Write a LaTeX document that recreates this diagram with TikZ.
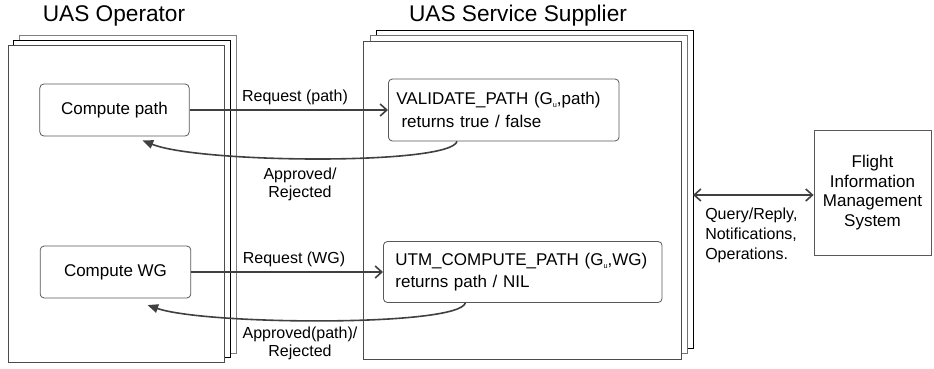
\documentclass[tikz,border=0pt]{standalone}
\usepackage{fontspec}
\setmainfont{Liberation Sans}
\usetikzlibrary{arrows.meta,calc}
% small subscript u after G
\newcommand{\Gsub}{G\raisebox{-0.35ex}{\fontsize{5.5}{5.5}\selectfont u}}

\tikzset{
  frame/.style={line width=0.6pt, fill=white},
  func/.style={draw=black!65, line width=0.6pt, rounded corners=3pt, inner ysep=0pt,
    font=\fontsize{12.75}{17}\selectfont},
  title/.style={font=\fontsize{17}{20}\selectfont, inner sep=0pt},
  lbl/.style={font=\fontsize{12}{13.5}\selectfont, inner sep=0pt},
  flow/.style={line width=1.2pt, draw=black!75, -{Straight Barb[length=5pt,width=9pt]}},
  reply/.style={line width=1.2pt, draw=black!75, -{Triangle[length=8pt,width=6.5pt]}},
}

\begin{document}
\begin{tikzpicture}[x=0.75pt,y=-0.75pt]
			\useasboundingbox (0,0) rectangle (934,368);
			%%%%% TITLES %%%%%
			\node[title] (optitle) at (114,16) {UAS Operator};
			\node[title] (usstitle) at (518,16) {UAS Service Supplier};
			
			%%%%% OPERATOR STACK %%%%%
			\draw[frame, draw=black!50] (19,35) rectangle (236,353);
			\draw[frame, draw=black] (13,40) rectangle (230,357);
			\draw[frame, draw=black!70] (8,45) rectangle (224,362);
			
			%%%%% SUPPLIER STACK %%%%%
			\draw[frame, draw=black] (376,30) rectangle (693,348);
			\draw[frame, draw=black!55] (370,35) rectangle (687,353);
			\draw[frame, draw=black!70] (363,41) rectangle (681,359);
			
			%%%%% FUNCTIONS %%%%%
			\node[func, minimum width=112pt, minimum height=39pt] (cpath) at (114.5,110) {Compute path};
			\node[func, minimum width=113pt, minimum height=39pt] (cwg) at (115.5,272) {Compute WG};
			\node[func, anchor=west, text width=161pt, inner xsep=6pt, minimum height=46.5pt, align=left]
				(valid) at (388,110) {VALIDATE\_PATH (\Gsub,path)\\\hspace*{0.3em}returns true / false};
			\node[func, anchor=west, text width=191pt, inner xsep=9pt, minimum height=45.75pt, align=left]
				(utm) at (383,272) {UTM\_COMPUTE\_PATH (\Gsub,WG)\\returns path / NIL};
			
			\node[draw=black!65, line width=0.6pt, minimum width=87.75pt, minimum height=93.75pt,
				align=center, font=\fontsize{12.75}{14.6}\selectfont] (fims) at (872.5,192.5)
				{Flight\\Information\\Management\\System};
			
			%%%%% REQUESTS AND REPLIES %%%%%
			\draw[flow] (cpath.east) -- (valid.west);
			\node[lbl] (reqpath) at (295,97) {Request (path)};
			\draw[reply] ([xshift=-35pt]valid.south) .. controls +(-7,24) and +(57,23) .. ([xshift=21pt,yshift=-3pt]cpath.south);
			\node[lbl, align=center] (aprpath) at (300,184) {Approved/\\Rejected};
			
			\draw[flow] (cwg.east) -- (utm.west);
			\node[lbl] (reqwg) at (294,259) {Request (WG)};
			\draw[reply] ([xshift=-43pt]utm.south) .. controls +(-7,24) and +(58,20) .. ([xshift=24pt,yshift=-5pt]cwg.south);
			\node[lbl, align=center] (aprwg) at (300,343) {Approved(path)/\\Rejected};
			
			%%%%% FIMS LINK %%%%%
			\coordinate (ussedge) at (693,195);
			\draw[flow, {Straight Barb[length=5pt,width=9pt]}-{Straight Barb[length=5pt,width=9pt]}] (ussedge) -- (ussedge -| fims.west);
			\node[font=\fontsize{12}{15}\selectfont, inner sep=0pt, align=left, anchor=west] (query) at (705,235)
				{Query/Reply,\\Notifications,\\Operations.};
			
			%%%%% END %%%%%
\end{tikzpicture}
\end{document}
